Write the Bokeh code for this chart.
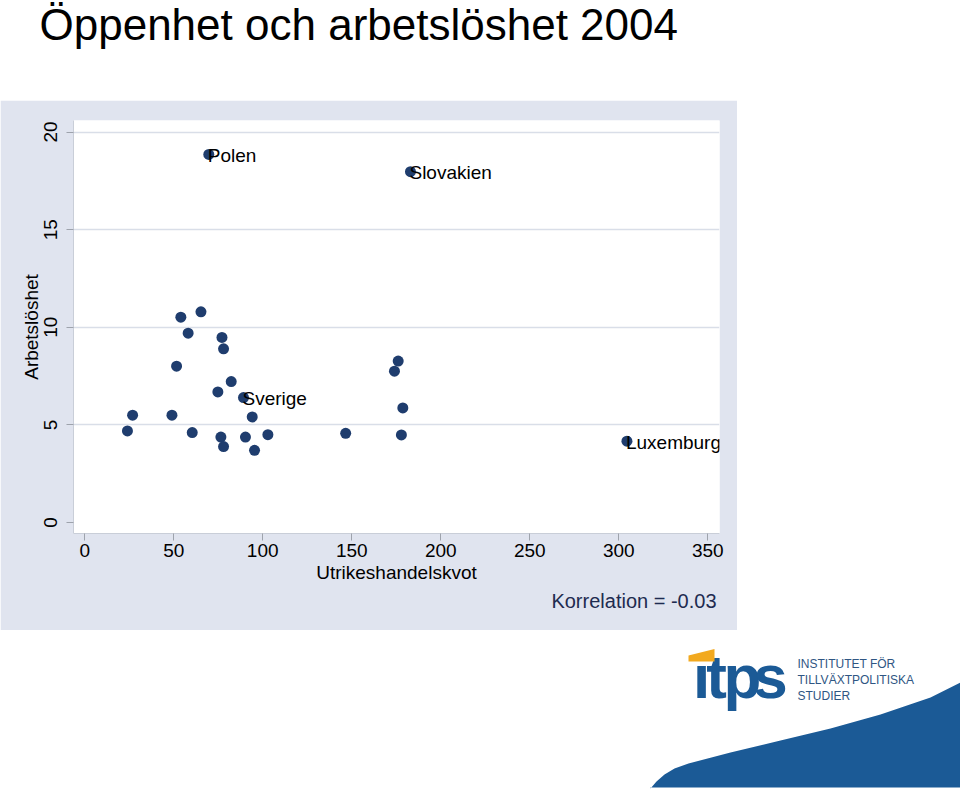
from bokeh.plotting import figure
from bokeh.layouts import column, row
from bokeh.models import Range1d, FixedTicker, Label, Title, Spacer, ColumnDataSource
from bokeh.core.properties import value
from bokeh.embed import file_html
from bokeh.resources import INLINE

# ---------------- data ----------------
title_text = "Öppenhet och arbetslöshet 2004"
x_label = "Utrikeshandelskvot"
y_label = "Arbetslöshet"
corr_text = "Korrelation = -0.03"

openness = [24.0, 26.9, 49.0, 51.6, 54.0, 58.1, 60.4, 65.3, 74.8, 76.5,
            77.1, 78.0, 78.0, 82.3, 89.2, 90.3, 94.1, 95.4, 102.9, 146.6,
            174.0, 176.1, 177.9, 178.7, 304.6, 69.7, 183.0]
unemployment = [4.69, 5.50, 5.50, 8.01, 10.52, 9.70, 4.61, 10.79, 6.69, 4.38,
                9.48, 8.90, 3.89, 7.22, 6.40, 4.38, 5.41, 3.70, 4.50, 4.57,
                7.75, 8.27, 4.49, 5.87, 4.17, 18.85, 17.97]
country = ["", "", "", "", "", "", "", "", "", "",
           "", "", "", "", "Sverige", "", "", "", "", "",
           "", "", "", "", "Luxemburg", "Polen", "Slovakien"]
x_ticks = [0, 50, 100, 150, 200, 250, 300, 350]
y_ticks = [0, 5, 10, 15, 20]

logo_letters = ["i", "t", "p", "s"]
logo_lines = ["INSTITUTET FÖR", "TILLVÄXTPOLITISKA", "STUDIER"]

FONT = value("Liberation Sans")
PANEL = "#E0E4EF"
NAVY = "#1F3D6E"
LOGO_BLUE = "#1B5A96"


def blank(width, height, xr, yr):
    f = figure(width=width, height=height, x_range=Range1d(*xr), y_range=Range1d(*yr),
               min_border=0, min_border_left=0, min_border_right=0, min_border_top=0,
               min_border_bottom=0, x_axis_location=None, y_axis_location=None,
               toolbar_location=None, output_backend="svg", outline_line_color=None,
               border_fill_color="white", background_fill_color="white")
    f.xgrid.visible = False
    f.ygrid.visible = False
    return f


# ---------------- title ----------------
tf = blank(960, 100, (0, 960), (100, 0))
tf.text(x=[39], y=[24], text=[title_text], text_font=FONT, text_font_size="44px",
        text_color="black", text_baseline="alphabetic", text_align="left")

# ---------------- main chart ----------------
p = figure(width=737, height=530, x_range=Range1d(-6.3, 356.6),
           y_range=Range1d(-0.56, 20.59), toolbar_location=None,
           output_backend="svg", min_border_left=73, min_border_right=18,
           min_border_top=20, min_border_bottom=97,
           border_fill_color=PANEL, background_fill_color="white",
           outline_line_color=None)

p.xgrid.visible = False
p.ygrid.ticker = FixedTicker(ticks=[t for t in y_ticks if t > 0])
p.ygrid.grid_line_color = "#D9DEE8"
p.ygrid.grid_line_width = 1.5

p.xaxis.ticker = FixedTicker(ticks=x_ticks)
p.yaxis.ticker = FixedTicker(ticks=y_ticks)
for ax in (p.xaxis[0], p.yaxis[0]):
    ax.axis_line_color = "#C9CED8"
    ax.major_tick_line_color = "#9EA3AC"
    ax.minor_tick_line_color = None
    ax.major_tick_out = 7
    ax.major_tick_in = 0
    ax.major_label_text_font = "Liberation Sans"
    ax.major_label_text_font_size = "19px"
    ax.major_label_text_color = "black"
    ax.axis_label_text_font = "Liberation Sans"
    ax.axis_label_text_font_size = "19px"
    ax.axis_label_text_font_style = "normal"
    ax.axis_label_text_color = "black"

p.xaxis.axis_label = x_label
p.xaxis.major_label_standoff = 3
p.xaxis.axis_label_standoff = 2
p.yaxis.axis_label = y_label
p.yaxis.major_label_orientation = "vertical"
p.yaxis.major_label_standoff = 9
p.yaxis.axis_label_standoff = 0

src = ColumnDataSource(dict(x=openness, y=unemployment, name=country))
p.scatter("x", "y", source=src, size=11, marker="circle",
          fill_color=NAVY, line_color=None)
p.text("x", "y", text="name", source=src, text_font=FONT,
       text_font_size="19px", text_color="black",
       text_baseline="middle", text_align="left", x_offset=-1, y_offset=1)

p.add_layout(Title(text=corr_text, align="right", text_font="Liberation Sans",
                   text_font_size="20px", text_font_style="normal",
                   text_color="#1E2B50", standoff=4, offset=3), "below")

# ---------------- logo ----------------
lg = blank(960, 160, (0, 960), (790, 630))

lg.patch([650, 656, 664, 674, 688, 730, 780, 830, 880, 930, 960, 960, 650],
         [788, 781, 774, 768, 763, 752, 740, 728, 714, 697, 682, 787, 787],
         fill_color=LOGO_BLUE, line_color=None)
lg.text(x=[701, 716, 742, 770], y=[676, 676, 676, 676], text=logo_letters,
        text_font=FONT, text_font_size="62px", text_font_style="bold",
        text_color=LOGO_BLUE, text_baseline="alphabetic", text_align="center")
lg.patch([688, 714, 714, 688], [655, 648.5, 661, 661],
         fill_color="#F2A91F", line_color=None)
lg.text(x=[797, 797, 797], y=[663.5, 679.5, 695.5], text=logo_lines, text_font=FONT,
        text_font_size="12px", text_color="#2F5683",
        text_baseline="alphabetic", text_align="left")

layout = column(tf, row(p, Spacer(width=223, height=530)), lg)

open("out.html", "w").write(file_html(layout, INLINE))
